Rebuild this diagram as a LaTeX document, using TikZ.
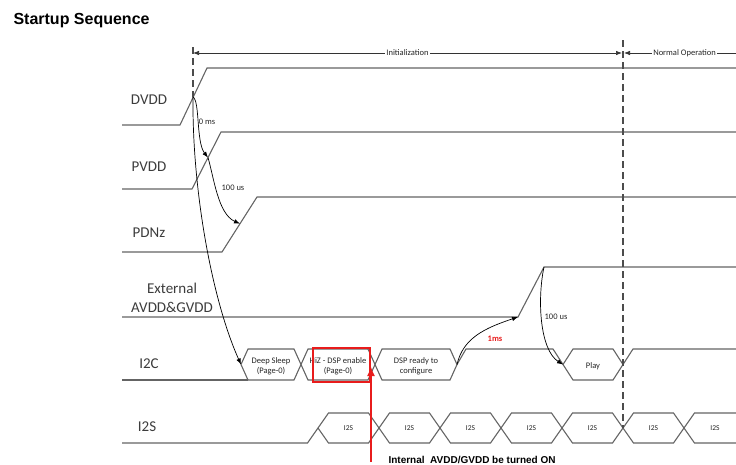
\documentclass[tikz,border=0pt]{standalone}
\usepackage{fontspec}
\setmainfont{Carlito}
\newfontfamily\headfont{Liberation Sans}
\usetikzlibrary{arrows.meta}
\definecolor{wavegray}{RGB}{100,100,100}
\definecolor{labelgray}{RGB}{60,60,60}
\definecolor{markred}{RGB}{232,28,28}

\begin{document}
\begin{tikzpicture}[x=1pt,y=-1pt,>={Latex[length=6pt,width=4.5pt]},
  wave/.style={wavegray,line width=1.1pt},
  marker/.style={black!70,line width=1.3pt,dash pattern=on 7pt off 4pt},
  phase/.style={black!80,line width=0.7pt},
  delay/.style={black,line width=0.7pt,->},
  sig/.style={text=labelgray,font=\fontsize{15}{19}\selectfont,align=center},
  note/.style={text=black!85,font=\fontsize{8.5}{10.5}\selectfont,inner sep=1pt},
  state/.style={note,align=center},
  bit/.style={note,font=\fontsize{7.5}{9}\selectfont},
  hilite/.style={draw=markred,line width=1.8pt,minimum width=57pt,minimum height=34pt,inner sep=0pt}]
  \useasboundingbox (0,0) rectangle (736,464);

  \node[anchor=base west,font=\headfont\bfseries\fontsize{16}{19}\selectfont] (title) at (10,24) {Startup Sequence};

  \node[sig] (dvdd) at (149,100) {DVDD};
  \node[sig] (pvdd) at (149,167) {PVDD};
  \node[sig] (pdnz) at (149,233) {PDNz};
  \node[sig] (ext) at (172,298) {External\\AVDD\&GVDD};
  \node[sig] (i2c) at (149,364) {I2C};
  \node[sig] (i2s) at (147,427) {I2S};

  \draw[wave] (122,125) -- (180,125) -- (207,68) -- (736,68);
  \draw[wave] (122,189) -- (192,189) -- (221,132) -- (736,132);
  \draw[wave] (122,252) -- (222,252) -- (257,197) -- (736,197);
  \draw[wave] (122,317) -- (518,317) -- (544,267) -- (736,267);

  \draw[wave] (122,380) -- (248,380);
  \draw[wave] (241,364.5) -- (248,349) -- (294,349) -- (301,364.5) -- (294,380) -- (248,380) -- cycle;
  \draw[wave] (301,364.5) -- (308,349) -- (368,349) -- (375,364.5) -- (368,380) -- (308,380) -- cycle;
  \draw[wave] (375,364.5) -- (382,349) -- (450,349) -- (457,364.5) -- (450,380) -- (382,380) -- cycle;
  \draw[wave] (457,364.5) -- (466,349) -- (553,349) -- (563,364.5);
  \draw[wave] (563,364.5) -- (573,349) -- (613,349) -- (623,364.5) -- (613,380) -- (573,380) -- cycle;
  \draw[wave] (623,364.5) -- (633,349) -- (736,349);

  \node[state] (sleep) at (271,366.5) {Deep Sleep\\(Page-0)};
  \node[state] (hiz) at (338,366.5) {HiZ - DSP enable\\(Page-0)};
  \node[state] (ready) at (416,366.5) {DSP ready to\\configure};
  \node[state] (play) at (593,366) {Play};
  \node[hilite] (hizmark) at (341.5,365) {};

  \draw[wave] (122,443) -- (307.5,443) -- (318,428);
  \draw[wave] (318,428) -- (328.5,413) -- (368.5,413) -- (379,428) -- (368.5,443) -- (328.5,443) -- cycle;
  \draw[wave] (379,428) -- (389.5,413) -- (429.5,413) -- (440,428) -- (429.5,443) -- (389.5,443) -- cycle;
  \draw[wave] (440,428) -- (450.5,413) -- (490.5,413) -- (501,428) -- (490.5,443) -- (450.5,443) -- cycle;
  \draw[wave] (501,428) -- (511.5,413) -- (551.5,413) -- (562,428) -- (551.5,443) -- (511.5,443) -- cycle;
  \draw[wave] (562,428) -- (572.5,413) -- (612.5,413) -- (623,428) -- (612.5,443) -- (572.5,443) -- cycle;
  \draw[wave] (623,428) -- (633.5,413) -- (673.5,413) -- (684,428) -- (673.5,443) -- (633.5,443) -- cycle;
  \draw[wave] (736,413) -- (694.5,413) -- (684,428) -- (694.5,443) -- (736,443);

  \node[bit] (s1) at (348.5,428) {I2S};
  \node[bit] (s2) at (409.5,428) {I2S};
  \node[bit] (s3) at (470.5,428) {I2S};
  \node[bit] (s4) at (531.5,428) {I2S};
  \node[bit] (s5) at (592.5,428) {I2S};
  \node[bit] (s6) at (653.5,428) {I2S};
  \node[bit] (s7) at (715,428) {I2S};

  \draw[marker] (193,47) -- (193,97);
  \draw[marker] (623,40) -- (623,428);

  \draw[phase,<->] (193,53) -- node[note,fill=white] (init) {Initialization} (622,53);
  \draw[phase,<-] (624,53) -- node[note,fill=white,pos=0.54] (normal) {Normal Operation} (736,53);

  \coordinate (dvddOn) at (193,97);
  \coordinate (pvddOn) at (208,157.6);
  \coordinate (pdnzOn) at (240,223.7);
  \coordinate (extLow) at (518,317);
  \coordinate (extOn) at (544,267);
  \coordinate (sleepIn) at (241,364.5);
  \coordinate (readyOut) at (457,364.5);
  \coordinate (playIn) at (563,364.5);

  \draw[delay] (dvddOn) .. controls (200,101) and (196,142) .. (pvddOn);
  \draw[delay] (dvddOn) .. controls (192,190) and (212,300) .. (sleepIn);
  \draw[delay] (pvddOn) .. controls (214,178) and (218,214) .. (pdnzOn);
  \draw[delay] (readyOut) .. controls (463,338) and (485,328) .. (extLow);
  \draw[delay] (extOn) .. controls (537,300) and (540,350) .. (playIn);

  \node[note] (t0) at (207,122) {0 ms};
  \node[note] (t1) at (233,188) {100 us};
  \node[note,text=markred,font=\bfseries\fontsize{8.5}{10}\selectfont] (t2) at (495,339) {1ms};
  \node[note] (t3) at (556,317) {100 us};

  \coordinate (turnOn) at (371,462);
  \coordinate (hizEdge) at (371,367);
  \draw[markred,line width=1.2pt,-{Latex[length=9pt,width=8pt]}] (turnOn) -- (hizEdge);
  \node[anchor=base west,font=\headfont\bfseries\fontsize{10}{12}\selectfont] (turnnote) at (385,463) {Internal\ \ AVDD/GVDD be turned ON};
\end{tikzpicture}
\end{document}
